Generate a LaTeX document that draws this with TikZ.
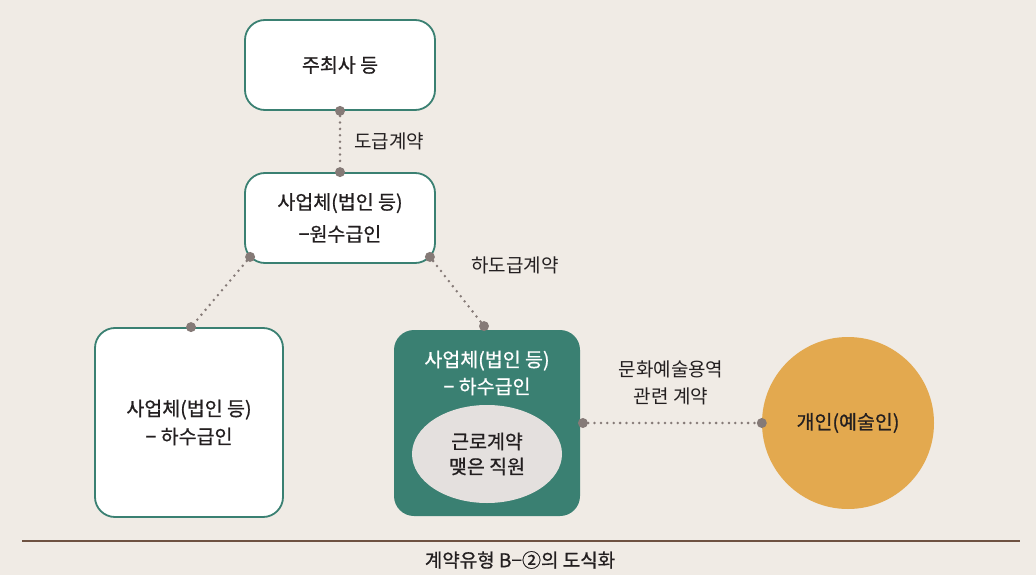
\documentclass[tikz,border=0pt]{standalone}
\usepackage{fontspec}
\setmainfont{Noto Sans CJK KR}
\newfontfamily\medfont{Noto Sans CJK KR}[FakeBold=0.7]
\usetikzlibrary{positioning,calc,shapes.geometric}
\definecolor{bgBeige}{RGB}{240,235,229}
\definecolor{boxTeal}{RGB}{58,128,114}
\definecolor{dotGray}{RGB}{133,122,119}
\definecolor{ellGray}{RGB}{228,224,222}
\definecolor{artGold}{RGB}{227,169,79}
\definecolor{ruleBrown}{RGB}{110,82,66}
\definecolor{txtDark}{RGB}{35,31,32}
\tikzset{
  whitebox/.style={rounded corners=20pt, draw=boxTeal, fill=white, line width=1.8pt, align=center,
              text=txtDark, font=\medfont\fontsize{19.5}{28}\selectfont, inner sep=0pt},
  tealbox/.style={whitebox, draw=none, fill=boxTeal},
  dotnode/.style={circle, fill=dotGray, minimum size=10pt, inner sep=0pt},
  dotline/.style={line width=2.8pt, dash pattern=on 0pt off 6.4pt, line cap=round, draw=dotGray},
  lbl/.style={align=center, text=txtDark, font=\fontsize{19}{27}\selectfont}
}
\begin{document}
\begin{tikzpicture}[x=1pt, y=-1pt]
\useasboundingbox (0,0) rectangle (1036,575);
\fill[bgBeige] (0,0) rectangle (1036,575);
% boxes
\node[whitebox, minimum width=190pt, minimum height=90pt] (host) at (340,65) {주최사 등};
\node[whitebox, minimum width=190pt, minimum height=90pt,
      font=\medfont\fontsize{19.5}{32}\selectfont] (prime) at (340,218) {사업체(법인 등)\\−원수급인};
\node[whitebox, minimum width=188pt, minimum height=189pt] (subA) at (189,422.5) {사업체(법인 등)\\− 하수급인};
\node[tealbox, minimum width=186pt, minimum height=186pt] (subB) at (487,423) {};
\node[align=center, text=white, font=\medfont\fontsize{19.5}{27}\selectfont] (subBtxt) at (487,373) {사업체(법인 등)\\− 하수급인};
\node[ellipse, fill=ellGray, minimum width=150pt, minimum height=98pt, align=center,
      text=txtDark, font=\medfont\fontsize{19.5}{25}\selectfont] (staff) at (487,454) {근로계약\\맺은 직원};
\node[circle, fill=artGold, minimum size=172pt, inner sep=0pt, text=txtDark,
      font=\medfont\fontsize{19.5}{24}\selectfont] (artist) at (848,423) {개인(예술인)};
% connector dots
\node[dotnode] (d1) at (host.south) {};
\node[dotnode] (d2) at (prime.north) {};
\node[dotnode] (d3) at ($(prime.south west)+(6,-7)$) {};
\node[dotnode] (d4) at ($(subA.north)+(2,0)$) {};
\node[dotnode] (d5) at ($(prime.south east)+(-6,-7)$) {};
\node[dotnode] (d6) at ($(subB.north)+(-3,-3)$) {};
\node[dotnode] (d7) at ($(subB.east)+(2,0)$) {};
\node[dotnode] (d8) at (artist.west) {};
\draw[dotline] (d1) -- (d2);
\draw[dotline] (d3) -- (d4);
\draw[dotline] (d5) -- (d6);
\draw[dotline] (d7) -- (d8);
% labels
\node[lbl] (l1) at (389,141) {도급계약};
\node[lbl] (l2) at (515,265) {하도급계약};
\node[lbl] (l3) at (671,383) {문화예술용역\\관련 계약};
% caption
\draw[ruleBrown, line width=2pt] (22,541) -- (1020,541);
\node[lbl, font=\medfont\fontsize{19}{24}\selectfont] (cap) at (520,560) {계약유형 B−②의 도식화};
\end{tikzpicture}
\end{document}
